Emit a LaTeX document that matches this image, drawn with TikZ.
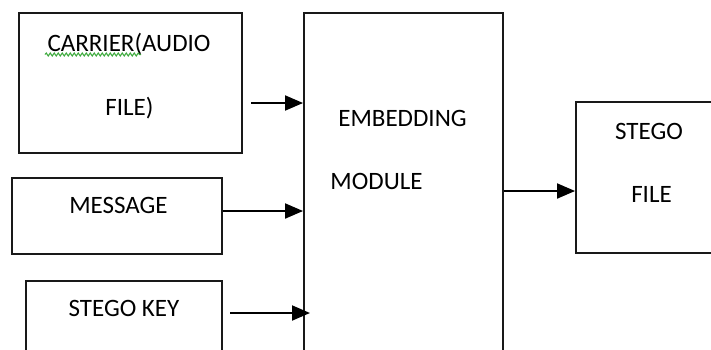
\documentclass[tikz,border=0pt]{standalone}
\usepackage{fontspec}
\setmainfont{Carlito}
\usetikzlibrary{arrows.meta,decorations.pathmorphing}
\definecolor{spellgreen}{RGB}{60,170,60}
\tikzset{
  block/.style={draw=black!90, line width=1.9pt, rectangle, inner sep=0pt},
  lbl/.style={anchor=base, inner sep=0pt, font=\fontsize{25}{30}\selectfont, text=black},
  flow/.style={line width=1.9pt, -{Triangle[length=18pt,width=15pt]}},
}
\begin{document}
\begin{tikzpicture}[x=1pt,y=-1pt]
  \clip (0,0) rectangle (711,349);
  \fill[white] (0,0) rectangle (711,349);

  % input blocks
  \node[block, minimum width=223pt, minimum height=140pt] (carrier) at (130.5,83) {};
  \node[block, minimum width=210pt, minimum height=76pt] (message) at (117,216) {};
  \node[block, minimum width=196pt, minimum height=79pt] (key) at (124,320.5) {};

  % embedding module and output
  \node[block, minimum width=199pt, minimum height=350pt] (embed) at (403.5,188) {};
  \node[block, minimum width=160pt, minimum height=151pt] (stego) at (656,177.5) {};

  % labels
  \node[lbl] (t1) at (129,51) {CARRIER(AUDIO};
  \node[lbl] (t2) at (129.5,115) {FILE)};
  \node[lbl] (t3) at (402.5,126.5) {EMBEDDING};
  \node[lbl] (t4) at (376.5,189) {MODULE};
  \node[lbl] (t5) at (649,139) {STEGO};
  \node[lbl] (t6) at (651.5,202.5) {FILE};
  \node[lbl] (t7) at (118.5,213.5) {MESSAGE};
  \node[lbl] (t8) at (124,316) {STEGO KEY};

  % wavy spelling underline
  \coordinate (w1) at (45,54.5);
  \coordinate (w2) at (141,54.5);
  \draw[spellgreen, line width=1pt, decorate,
        decoration={snake, amplitude=1.5pt, segment length=4pt}] (w1) -- (w2);

  % connectors
  \coordinate (a1) at (251,103);
  \draw[flow] (a1) -- (a1 -| embed.west);
  \draw[flow] (message.east |- 0,211) -- (embed.west |- 0,211);
  \coordinate (a3) at (230,313);
  \coordinate (a3e) at (310,313);
  \draw[flow] (a3) -- (a3e);
  \draw[flow] (embed.east |- 0,191) -- (stego.west |- 0,191);
\end{tikzpicture}
\end{document}
